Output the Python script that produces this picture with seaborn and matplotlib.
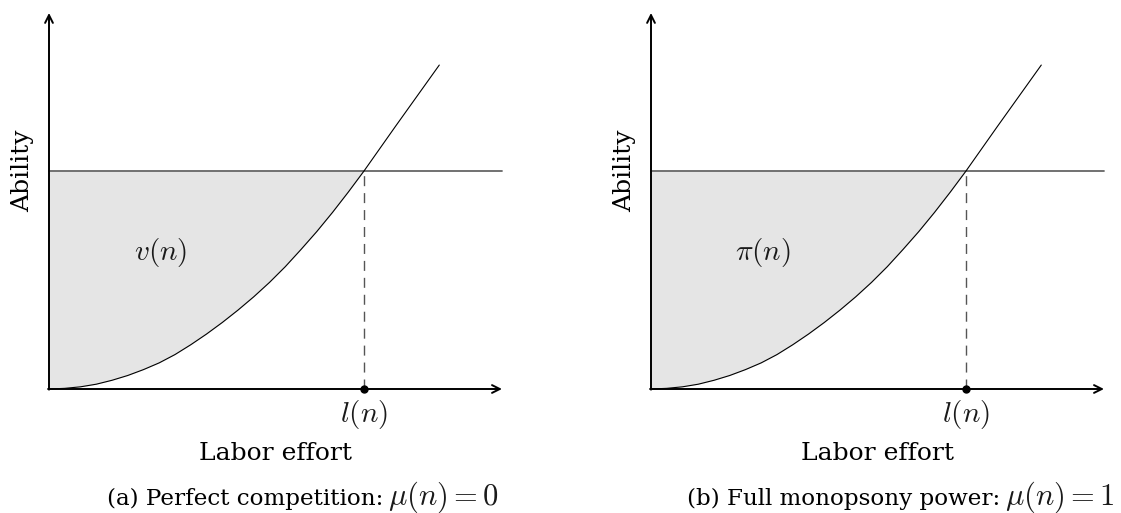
import matplotlib
matplotlib.use('Agg')

import numpy as np
import seaborn as sns
from matplotlib import pyplot as plt

# curve points (labor effort, ability), l(n) scaled to 1
effort = [0.0, 0.05, 0.10, 0.15, 0.20, 0.25, 0.30, 0.35, 0.40, 0.45, 0.50,
          0.55, 0.60, 0.65, 0.70, 0.75, 0.80, 0.85, 0.90, 0.95, 1.0, 1.10, 1.239]
ability = [0.0, 0.003, 0.010, 0.022, 0.040, 0.062, 0.089, 0.120, 0.158, 0.203, 0.252,
           0.305, 0.362, 0.423, 0.489, 0.561, 0.640, 0.722, 0.810, 0.903, 1.0, 1.205, 1.486]
level = 1.0        # ability of type n
l_n = 1.0          # labor effort at the crossing

area_labels = [r'$v(n)$', r'$\pi(n)$']
caption_text = ['(a) Perfect competition:', '(b) Full monopsony power:']
caption_math = [r'$\mu(n) = 0$', r'$\mu(n) = 1$']

sns.set_style('white')
plt.rcParams['font.family'] = ['DejaVu Serif']
plt.rcParams['mathtext.fontset'] = 'cm'

W, H = 1121, 513
fig = plt.figure(figsize=(W / 100, H / 100), dpi=100)

sx, sy = 315.0, 218.0   # pixels per data unit
x_end, y_end = 1.438, 1.725
ink = '#1a1a1a'


def fx(px):
    return px / W


def fy(py):
    return (H - py) / H


for i in range(2):
    ox = 49 + 602 * i        # pixel position of origin
    oy = 389
    left, right = ox - 9, ox + 461
    top, bottom = 5, 395
    ax = fig.add_axes([left / W, (H - bottom) / H, (right - left) / W, (bottom - top) / H])
    ax.set_xlim((left - ox) / sx, (right - ox) / sx)
    ax.set_ylim((oy - bottom) / sy, (oy - top) / sy)
    ax.axis('off')

    e = np.array(effort)
    a = np.array(ability)
    m = e <= l_n
    ax.fill_between(e[m], a[m], level, color='#e5e5e5', lw=0)
    ax.plot([0, x_end], [level, level], color='#666666', lw=1.3)
    ax.plot([l_n, l_n], [0, level], color='#555555', lw=1.0, ls=(0, (7.2, 5)))
    sns.lineplot(x=effort, y=ability, ax=ax, color='black', lw=0.8, sort=False)

    # axes with arrows
    ax.annotate('', xy=(x_end, 0), xytext=(-0.003, 0),
                arrowprops=dict(arrowstyle='->', lw=1.4, color='black',
                                shrinkA=0, shrinkB=0, mutation_scale=14))
    ax.annotate('', xy=(0, y_end), xytext=(0, -0.003),
                arrowprops=dict(arrowstyle='->', lw=1.4, color='black',
                                shrinkA=0, shrinkB=0, mutation_scale=14))
    ax.plot([l_n], [0], 'o', color='black', ms=5, clip_on=False, zorder=5)

    ax.text(0.356, (oy - 260) / sy, area_labels[i], fontsize=21, ha='center',
            va='baseline', color=ink)
    ax.text(l_n, (oy - 422) / sy, r'$l(n)$', fontsize=21, ha='center', va='baseline',
            clip_on=False, color=ink)
    ax.text(0.719, (oy - 460) / sy, 'Labor effort', fontsize=18, ha='center',
            va='baseline', clip_on=False, color='black')
    ax.text(-26 / sx, level, 'Ability', fontsize=18, rotation=90, ha='center',
            va='center', clip_on=False, color='black')

    # caption: plain part and math part
    split = [383, 1000][i]
    fig.text(fx(split), fy(505), caption_text[i], fontsize=16.6, ha='right',
             va='baseline', color='black')
    fig.text(fx(split + 5), fy(505), caption_math[i], fontsize=22, ha='left',
             va='baseline', color=ink)

plt.savefig('out.png', dpi=100)
